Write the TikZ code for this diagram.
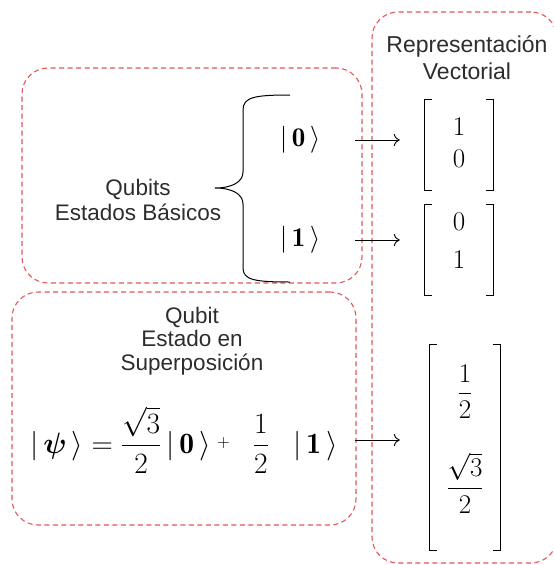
\RequirePackage{fix-cm}
\documentclass[tikz,border=0pt]{standalone}
\usepackage{amsmath,amssymb,bm}
\usepackage{fontspec}
\newfontfamily\labelfont{Liberation Sans}
\usetikzlibrary{positioning,arrows.meta}
\definecolor{dashred}{RGB}{226,86,86}
\definecolor{textgray}{RGB}{45,45,45}

\begin{document}
\begin{tikzpicture}[
  x=1pt,y=-1pt,
  group/.style={draw=dashred,dash pattern=on 5pt off 3.5pt,line width=1.1pt,rounded corners=26pt,inner sep=0pt},
  grouptitle/.style={align=center,text=textgray,font=\labelfont\fontsize{21}{24}\selectfont},
  ket/.style={inner sep=0pt,font=\fontsize{27}{30}\selectfont},
  vecbox/.style={inner sep=0pt,minimum width=68pt,font=\fontsize{27}{30}\selectfont},
  bracket/.style={line width=1pt,line cap=rect},
  arrow/.style={-{To[length=6pt,width=12pt]},line width=0.9pt}
]
\useasboundingbox (0,0) rectangle (554,565);

% dashed groups
\node[group,minimum width=340pt,minimum height=215pt] (basic) at (192,175.5) {};
\node[group,minimum width=344pt,minimum height=233pt] (super) at (184,408.5) {};
\node[group,minimum width=185pt,minimum height=551pt] (vect) at (464.5,287.5) {};

% titles
\node[grouptitle,font=\labelfont\fontsize{22.5}{25}\selectfont] (basicLbl) at (138,199.5) {Qubits\\Estados Básicos};
\node[grouptitle,font=\labelfont\fontsize{22.5}{23.5}\selectfont] (superLbl) at (192,341) {Qubit\\Estado en\\Superposición};
\node[grouptitle,font=\labelfont\fontsize{23}{27}\selectfont] (vectLbl) at (467,58) {Representación\\Vectorial};

% basis states
\node[ket] (ket0) at (300,140) {$|\,\mathbf{0}\,\rangle$};
\node[ket] (ket1) at (300,240) {$|\,\mathbf{1}\,\rangle$};
\draw[line width=1pt] (290,95) .. controls (255,95) and (243,97) .. (243,110) -- (243,172)
  .. controls (243,182) and (232,188) .. (215,188)
  .. controls (232,188) and (243,194) .. (243,204) -- (243,268)
  .. controls (243,280) and (255,282) .. (290,282);

% superposition
\node[ket,font=\fontsize{29.5}{34}\selectfont] (eq) at (184,440)
  {$|\,\bm{\psi}\,\rangle = \dfrac{\sqrt{3}}{2}\,|\,\mathbf{0}\,\rangle\mathbin{\raisebox{0.2em}{\scalebox{0.6}{$+$}}}\;\;\dfrac{1}{2}\;\;\;|\,\mathbf{1}\,\rangle$};

% vectors
\node[vecbox,minimum height=90pt] (vec0) at (459,145) {$\begin{matrix}1\\[2pt]0\end{matrix}$};
\node[vecbox,minimum height=90pt] (vec1) at (459,250) {\raisebox{0pt}[0pt][0pt]{$\begin{matrix}0\\[8pt]1\end{matrix}$}};
\node[vecbox,minimum width=70pt,minimum height=205pt] (vecpsi) at (465,447.5)
  {\raisebox{1.5pt}[0pt][0pt]{$\begin{matrix}\dfrac{1}{2}\\[43pt]\dfrac{\sqrt{3}}{2}\end{matrix}$}};
\foreach \v in {vec0,vec1,vecpsi}{
  \draw[bracket] ([xshift=7pt]\v.north west) -- (\v.north west) -- (\v.south west) -- ([xshift=7pt]\v.south west);
  \draw[bracket] ([xshift=-7pt]\v.north east) -- (\v.north east) -- (\v.south east) -- ([xshift=-7pt]\v.south east);
}

% connectors
\coordinate (out0) at (355,140);
\coordinate (out1) at (355,240);
\coordinate (outpsi) at (355,440);
\draw[arrow,shorten >=25pt] (out0) -- (out0 -| vec0.west);
\draw[arrow,shorten >=25pt] (out1) -- (out1 -| vec1.west);
\draw[arrow,shorten >=30pt] (outpsi) -- (outpsi -| vecpsi.west);
\end{tikzpicture}
\end{document}
